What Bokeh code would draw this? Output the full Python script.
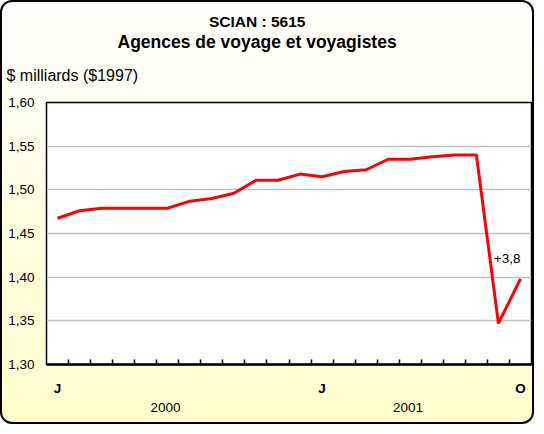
from bokeh.plotting import figure
from bokeh.models import (FixedTicker, CustomJSTickFormatter, Label, LinearAxis,
                          Range1d, Grid, Title)
from bokeh.embed import file_html
from bokeh.resources import INLINE

# ---- data -------------------------------------------------------------
months = list(range(22))  # Jan 2000 .. Oct 2001 (month index)
values = [1.4675, 1.476, 1.479, 1.479, 1.479, 1.479, 1.487, 1.490, 1.496,
          1.511, 1.511, 1.518, 1.515, 1.521, 1.523, 1.535, 1.535, 1.538,
          1.540, 1.540, 1.347, 1.398]
month_tick_pos = [0, 12, 21]
month_tick_labels = ["J", "J", "O"]
years = ["2000", "2001"]
year_first_month = [0, 12]
year_last_month = [11, 21]
y_ticks = [1.30, 1.35, 1.40, 1.45, 1.50, 1.55, 1.60]
title_1 = "SCIAN : 5615"
title_2 = "Agences de voyage et voyagistes"
y_label = "$ milliards ($1997)"
change_text = "+3,8"

FONT = "Liberation Sans"

p = figure(width=534, height=424,
           x_range=Range1d(-0.5, 21.5), y_range=Range1d(1.30, 1.60),
           output_backend="svg", toolbar_location=None,
           x_axis_type=None, y_axis_type=None,
           min_border_left=46, min_border_right=3,
           min_border_top=102, min_border_bottom=60,
           background_fill_color="white", border_fill_color=None,
           outline_line_color="black", outline_line_width=1.5,
           styles={"background": "linear-gradient(to bottom, #FFFFFB 0%, #FFFFEE 30%, #FFFFCC 100%)",
                   "border-radius": "12px",
                   "box-shadow": "inset 0 0 0 2px #000"})

# y axis
yaxis = LinearAxis(ticker=FixedTicker(ticks=y_ticks),
                   formatter=CustomJSTickFormatter(code="return tick.toFixed(2).replace('.', ',');"),
                   axis_line_color=None, major_tick_line_color=None,
                   minor_tick_line_color=None, major_label_standoff=6,
                   major_label_text_font=FONT, major_label_text_font_size="13.5px",
                   major_label_text_color="black")
p.add_layout(yaxis, "left")
p.add_layout(Grid(dimension=1, ticker=yaxis.ticker, grid_line_color="#C0C0C0",
                  grid_line_width=1.5))

# x axis: month letters
xaxis = LinearAxis(ticker=FixedTicker(ticks=month_tick_pos,
                                      minor_ticks=[m + 0.5 for m in months[:-1]]),
                   formatter=CustomJSTickFormatter(
                       args=dict(pos=month_tick_pos, lab=month_tick_labels),
                       code="const i = pos.indexOf(tick); return i >= 0 ? lab[i] : '';"),
                   axis_line_color="black", axis_line_width=2.5,
                   major_tick_in=0, major_tick_out=0,
                   minor_tick_in=5, minor_tick_out=0,
                   minor_tick_line_color="black", minor_tick_line_width=1.5,
                   major_label_standoff=16,
                   major_label_text_font=FONT, major_label_text_font_size="13.5px",
                   major_label_text_font_style="bold", major_label_text_color="black")
p.add_layout(xaxis, "below")

# x axis: years (label sits slightly left of the year's middle month)
year_pos = [(a + b) / 2 - 0.6 for a, b in zip(year_first_month, year_last_month)]
yearaxis = LinearAxis(ticker=FixedTicker(ticks=year_pos),
                      formatter=CustomJSTickFormatter(
                          args=dict(pos=year_pos, lab=years),
                          code="const i = pos.indexOf(tick); return i >= 0 ? lab[i] : '';"),
                      axis_line_color=None, major_tick_line_color=None,
                      minor_tick_line_color=None, major_label_standoff=-2,
                      major_label_text_font=FONT, major_label_text_font_size="13.5px",
                      major_label_text_color="black")
p.add_layout(yearaxis, "below")

# titles (first added sits nearest the plot)
p.add_layout(Title(text=y_label, align="left", offset=-40, standoff=38,
                   text_font=FONT, text_font_size="16px", text_font_style="normal",
                   text_color="black"), "above")
p.add_layout(Title(text=title_2, align="left", offset=71, standoff=-13.5,
                   text_font=FONT, text_font_size="17.5px", text_font_style="bold",
                   text_color="black"), "above")
p.add_layout(Title(text=title_1, align="left", offset=162.5, standoff=13.5,
                   text_font=FONT, text_font_size="15.5px", text_font_style="bold",
                   text_color="black"), "above")

# data line
p.line(months, values, line_color="#FF0000", line_width=3)

p.add_layout(Label(x=months[-1], y=values[-1], text=change_text, text_align="right",
                   text_baseline="alphabetic", y_offset=20, text_font=FONT,
                   text_font_size="13.5px", text_color="black"))

open("out.html", "w").write(file_html(p, INLINE))
